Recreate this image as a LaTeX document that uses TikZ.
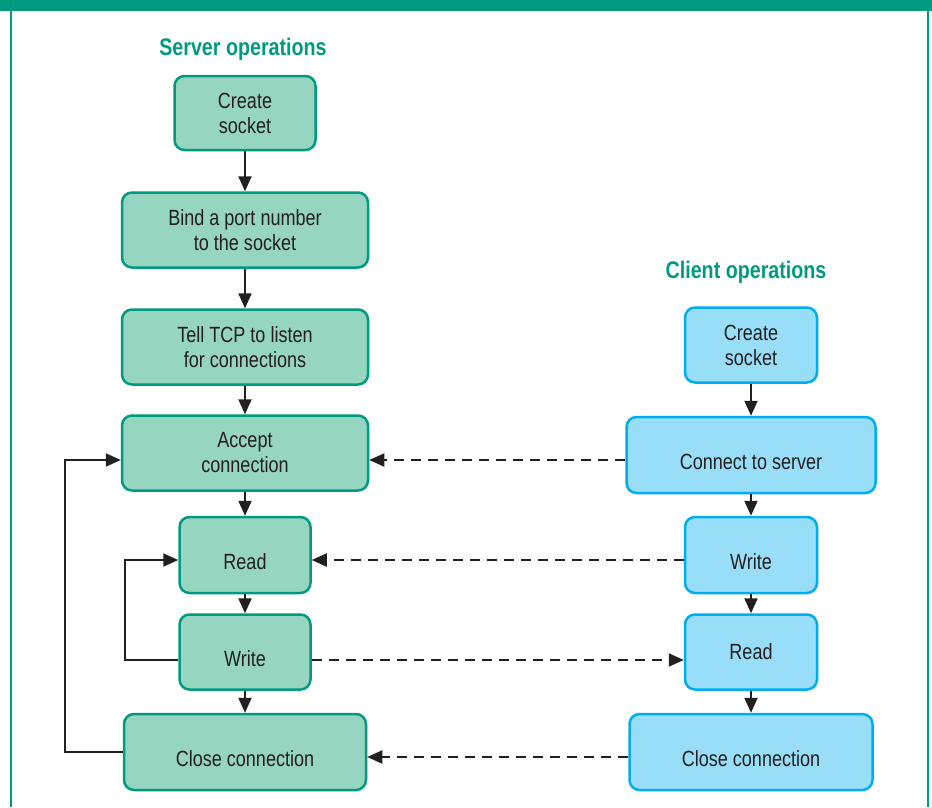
\documentclass[tikz,border=0pt]{standalone}
\usepackage{fontspec}
\setmainfont[FakeStretch=0.82]{Liberation Sans}
\usetikzlibrary{arrows.meta}
\definecolor{teal}{RGB}{0,154,128}
\definecolor{srvfill}{RGB}{150,213,192}
\definecolor{clifill}{RGB}{153,222,248}
\definecolor{cliline}{RGB}{0,174,239}
\definecolor{ink}{RGB}{35,31,32}
\begin{document}
\begin{tikzpicture}[x=1pt,y=-1pt,
  srvbox/.style={draw=teal,fill=srvfill,line width=2.5pt,rounded corners=10pt,
    align=center,inner sep=0pt,text=ink,font=\fontsize{22}{25}\selectfont},
  clibox/.style={srvbox,draw=cliline,fill=clifill},
  low/.style={text height=28pt,text depth=0pt},
  title/.style={text=teal,font=\fontsize{24}{28}\selectfont\bfseries},
  flow/.style={draw=ink,line width=2pt,-{Triangle[length=15pt,width=13pt]}},
  msg/.style={flow,dash pattern=on 10pt off 7pt}]
\useasboundingbox (0,0) rectangle (932,807);
\fill[teal] (0,0) rectangle (932,11);
\draw[teal,line width=1.5pt] (11,11) -- (11,807);
\draw[teal,line width=1.5pt] (928,11) -- (928,807);
% server side
\node[title] (stitle) at (243,49) {Server operations};
\node[srvbox,minimum width=141pt,minimum height=74pt] (ssock) at (245,113) {Create\\socket};
\node[srvbox,minimum width=246pt,minimum height=75pt] (bind) at (245,230) {Bind a port number\\to the socket};
\node[srvbox,minimum width=246pt,minimum height=75pt] (listen) at (245,347) {Tell TCP to listen\\for connections};
\node[srvbox,minimum width=246pt,minimum height=75pt] (accept) at (245,453) {Accept\\connection};
\node[srvbox,low,minimum width=131pt,minimum height=76pt] (sread) at (245,555) {Read};
\node[srvbox,low,minimum width=131pt,minimum height=75pt] (swrite) at (245,652) {Write};
\node[srvbox,low,minimum width=242pt,minimum height=76pt] (sclose) at (245,752) {Close connection};
% client side
\node[title] (ctitle) at (746,272) {Client operations};
\node[clibox,minimum width=132pt,minimum height=75pt] (csock) at (751,345) {Create\\socket};
\node[clibox,low,minimum width=249pt,minimum height=76pt] (connect) at (751,455) {Connect to server};
\node[clibox,low,minimum width=132pt,minimum height=76pt] (cwrite) at (751,555) {Write};
\node[clibox,minimum width=132pt,minimum height=75pt] (cread) at (751,652) {Read};
\node[clibox,low,minimum width=243pt,minimum height=76pt] (cclose) at (751,752) {Close connection};
% steps
\draw[flow] (ssock) -- (bind);
\draw[flow] (bind) -- (listen);
\draw[flow] (listen) -- (accept);
\draw[flow] (accept) -- (sread);
\draw[flow] (sread) -- (swrite);
\draw[flow] (swrite) -- (sclose);
\draw[flow] (csock) -- (connect);
\draw[flow] (connect) -- (cwrite);
\draw[flow] (cwrite) -- (cread);
\draw[flow] (cread) -- (cclose);
% loops
\draw[flow] ([yshift=-8pt]swrite.west) -- ++(-53,0) |- ([yshift=-5pt]sread.west);
\draw[flow] (sclose.west) -- ++(-58,0) |- ([yshift=-7pt]accept.west);
% messages
\draw[msg] ([yshift=-5pt]connect.west) -- ([yshift=-5pt]connect.west -| accept.east);
\draw[msg] ([yshift=-5pt]cwrite.west) -- ([yshift=-5pt]cwrite.west -| sread.east);
\draw[msg] ([yshift=-8pt]swrite.east) -- ([yshift=-8pt]swrite.east -| cread.west);
\draw[msg] ([yshift=-5pt]cclose.west) -- ([yshift=-5pt]cclose.west -| sclose.east);
\end{tikzpicture}
\end{document}
